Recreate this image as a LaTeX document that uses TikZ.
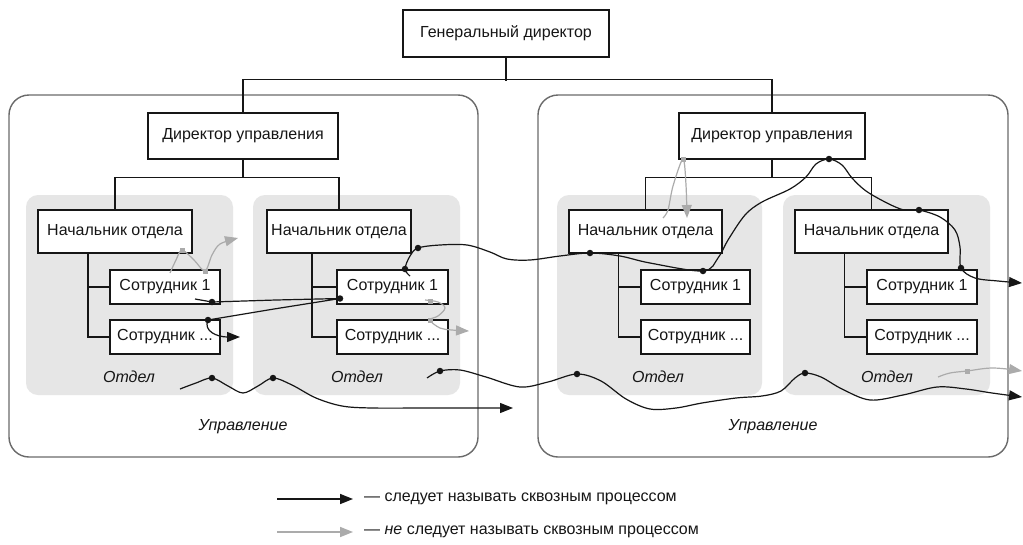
\documentclass[tikz,border=0pt]{standalone}
\usepackage{fontspec}
\setmainfont{Liberation Sans}
\usetikzlibrary{arrows.meta}

\definecolor{ink}{HTML}{161616}
\definecolor{deptfill}{HTML}{E6E6E6}
\definecolor{frame}{HTML}{6A6A6A}
\definecolor{light}{HTML}{ABABAB}

\tikzset{
  role/.style={draw=ink, line width=1.4pt, fill=white, inner sep=0pt, text=ink},
  mgmt/.style={draw=frame, line width=1.4pt, rounded corners=20pt, fill=white},
  dept/.style={fill=deptfill, rounded corners=12pt, inner sep=0pt},
  unitlabel/.style={text=ink, font=\fontsize{16}{18}\selectfont\itshape},
  org/.style={draw=ink, line width=1.4pt},
  flow/.style={draw=ink, line width=1.2pt},
  weak/.style={draw=light, line width=1.2pt},
  tipk/.style={-{Triangle[length=13pt,width=10pt]}},
  tipw/.style={-{Triangle[length=13pt,width=10pt]}},
  knot/.style={circle, fill=ink, inner sep=0pt, minimum size=6.5pt},
  wknot/.style={rectangle, fill=light, inner sep=0pt, minimum size=5pt},
}

\begin{document}
\begin{tikzpicture}[x=1pt, y=-1pt, font=\fontsize{16}{18}\selectfont]
\useasboundingbox (0,0) rectangle (1023,544);
\fill[white] (0,0) rectangle (1023,544);

% management frames
\node[mgmt, minimum width=469pt, minimum height=362pt] (m1) at (243.5,276) {};
\node[mgmt, minimum width=470pt, minimum height=362pt] (m2) at (773,276) {};

% department backgrounds
\node[dept, minimum width=207pt, minimum height=200pt] (d1) at (129.5,295) {};
\node[dept, minimum width=207pt, minimum height=200pt] (d2) at (356.5,295) {};
\node[dept, minimum width=205pt, minimum height=200pt] (d3) at (659.5,295) {};
\node[dept, minimum width=207pt, minimum height=200pt] (d4) at (886.5,295) {};

% positions
\node[role, minimum width=206pt, minimum height=47pt] (gd) at (506,33.5) {Генеральный директор};
\node[role, minimum width=190pt, minimum height=46pt] (dl) at (243,136) {Директор управления};
\node[role, minimum width=186pt, minimum height=46pt] (dr) at (772,136) {Директор управления};

\node[role, minimum width=154pt, minimum height=43pt] (n1) at (115,231.5) {Начальник отдела};
\node[role, minimum width=144pt, minimum height=43pt] (n2) at (339,231.5) {Начальник отдела};
\node[role, minimum width=153pt, minimum height=43pt] (n3) at (645.5,231.5) {Начальник отдела};
\node[role, minimum width=153pt, minimum height=43pt] (n4) at (871.5,231.5) {Начальник отдела};

\node[role, minimum width=110pt, minimum height=34pt] (s11) at (165,287) {Сотрудник 1};
\node[role, minimum width=110pt, minimum height=34pt] (s12) at (165,337) {Сотрудник ...};
\node[role, minimum width=111pt, minimum height=34pt] (s21) at (392.5,287) {Сотрудник 1};
\node[role, minimum width=111pt, minimum height=34pt] (s22) at (392.5,337) {Сотрудник ...};
\node[role, minimum width=109pt, minimum height=34pt] (s31) at (695.5,287) {Сотрудник 1};
\node[role, minimum width=109pt, minimum height=34pt] (s32) at (695.5,337) {Сотрудник ...};
\node[role, minimum width=110pt, minimum height=34pt] (s41) at (922,287) {Сотрудник 1};
\node[role, minimum width=110pt, minimum height=34pt] (s42) at (922,337) {Сотрудник ...};

% unit captions
\node[unitlabel] (l1) at (129,377) {Отдел};
\node[unitlabel] (l2) at (357,377) {Отдел};
\node[unitlabel] (l3) at (658,377) {Отдел};
\node[unitlabel] (l4) at (887,377) {Отдел};
\node[unitlabel] (u1) at (243,427) {Управление};
\node[unitlabel] (u2) at (773,427) {Управление};

% reporting lines
\draw[org] (gd.south) -- ++(0,23);
\draw[org] (dl.north) -- ++(0,-33) -| (dr.north);
\draw[org] (dl.south) -- ++(0,18) -| (n1.north);
\draw[org] (dl.south) ++(0,18) -| (n2.north);
\draw[org] (dr.south) -- ++(0,18) -| (n3.north);
\draw[org] (dr.south) ++(0,18) -| (n4.north);
\foreach \n/\a/\b in {n1/s11/s12, n2/s21/s22, n3/s31/s32, n4/s41/s42}{
  \draw[org] ([xshift=-27pt]\n.south) |- (\b.west);
  \draw[org] ([xshift=-27pt]\n.south |- \a.west) -- (\a.west);
}

% through-process paths (black)
\draw[flow, tipk] (195,299) -- (212,302) -- (276,300) -- (340,298.5)
  -- (274,309) -- (208,320) .. controls (203,331) and (217,337) .. (240,337);
\node[knot] at (212,302) {};
\node[knot] at (340,298.5) {};
\node[knot] at (208,320) {};

\draw[flow, tipk] plot[smooth, tension=0.55] coordinates {
  (410,276) (405,269) (410,256) (418,248) (440,245) (467,245) (490,252)
  (507,259) (530,260) (560,256) (590,253) (620,256) (650,263) (703,271)
  (718,258) (728,240) (745,215) (762,202) (790,189) (806,177) (816,164)
  (829,159) (842,165) (852,178) (866,191) (887,203) (904,210) (919,210)
  (940,217) (955,230) (960,247) (961,268) (975,278) (998,281) (1022,283)};
\foreach \p in {(405,269),(418,248),(590,253),(703,271),(829,159),(919,210),(961,268)}
  \node[knot] at \p {};

\draw[flow, tipk] plot[smooth, tension=0.55] coordinates {
  (180,389) (196,383) (212,378) (228,386) (243,393) (258,386) (273,378)
  (292,385) (316,398) (342,406) (372,408) (430,408) (513,408)};
\node[knot] at (212,378) {};
\node[knot] at (273,378) {};

\draw[flow, tipk] plot[smooth, tension=0.55] coordinates {
  (427,378) (440,371) (460,370) (486,377) (520,387) (548,382) (577,374)
  (601,381) (626,399) (650,409) (676,408) (702,403) (736,398) (762,396)
  (781,391) (795,378) (805,373) (821,377) (842,389) (870,400) (903,395)
  (937,387) (966,389) (992,393) (1022,397)};
\node[knot] at (440,371) {};
\node[knot] at (577,374) {};
\node[knot] at (805,373) {};

% paths that do not count as through processes (grey)
\draw[weak, tipw] plot[smooth, tension=0.5] coordinates {
  (170,273) (176,260) (182,250) (194,260) (205,271) (212,255) (220,244) (238,238)};
\node[wknot] at (182,250) {};
\node[wknot] at (205,271) {};

\draw[weak, tipw] plot[smooth, tension=0.6] coordinates {
  (425,300) (438,302) (445,308) (438,316) (430,320) (440,328) (452,330) (469,331)};
\node[wknot] at (430,301) {};
\node[wknot] at (430,320) {};

\draw[weak, tipw] plot[smooth, tension=0.5] coordinates {
  (663,218) (668,210) (673,186) (683,159) (686,185) (687,218)};
\node[wknot] at (683,159) {};

\draw[weak, tipw] plot[smooth, tension=0.6] coordinates {
  (938,377) (950,373) (967,371) (993,368) (1022,371)};
\node[wknot] at (967,371) {};

% legend
\coordinate (k1) at (277,499);
\coordinate (k2) at (353,499);
\coordinate (w1) at (277,532);
\coordinate (w2) at (353,532);
\draw[flow, line width=1.6pt, tipk] (k1) -- (k2);
\draw[weak, line width=1.6pt, tipw] (w1) -- (w2);
\node[anchor=west, text=ink, inner sep=0pt] (t1) at (364,499) {— следует называть сквозным процессом};
\node[anchor=west, text=ink, inner sep=0pt] (t2) at (364,532) {— \textit{не} следует называть сквозным процессом};
\end{tikzpicture}
\end{document}
